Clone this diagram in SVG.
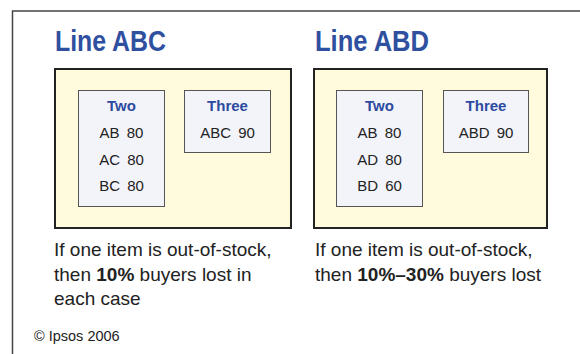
<svg xmlns="http://www.w3.org/2000/svg" width="580" height="354" viewBox="0 0 580 354">
<style>
.frame{fill:none;stroke:#444;stroke-width:1.5}
.panel{fill:#fffbdc;stroke:#222;stroke-width:2}
.box{fill:#f3f4fa;stroke:#555;stroke-width:1}
.title{font-family:"Liberation Sans",Arial,sans-serif;font-weight:bold;font-size:29px;fill:#2f4f9f}
.head{font-family:"Liberation Sans",Arial,sans-serif;font-weight:bold;font-size:15px;fill:#2b4aa0;text-anchor:middle}
.item{font-family:"Liberation Sans",Arial,sans-serif;font-size:15px;fill:#222;text-anchor:middle;word-spacing:3px}
.note{font-family:"Liberation Sans",Arial,sans-serif;font-size:19px;fill:#222}
.copy{font-family:"Liberation Sans",Arial,sans-serif;font-size:14.5px;fill:#222}
</style>
<rect width="580" height="354" fill="#fff"/>
<path class="frame" d="M12.5,354 V11 H580"/>
<g id="lineABC">
<text class="title" x="55" y="51" textLength="111" lengthAdjust="spacingAndGlyphs">Line ABC</text>
<rect class="panel" x="55" y="69" width="236" height="159"/>
<g id="abc-two">
<rect class="box" x="78.5" y="90.5" width="86" height="116"/>
<text class="head" x="121.5" y="111">Two</text>
<text class="item" x="121.5" y="138">AB 80</text>
<text class="item" x="121.5" y="165">AC 80</text>
<text class="item" x="121.5" y="191">BC 80</text>
</g>
<g id="abc-three">
<rect class="box" x="184.5" y="90.5" width="86" height="62"/>
<text class="head" x="227.5" y="111">Three</text>
<text class="item" x="227.5" y="138">ABC 90</text>
</g>
<text class="note" x="54" y="256">If one item is out-of-stock,</text>
<text class="note" x="54" y="281">then <tspan font-weight="bold">10%</tspan> buyers lost in</text>
<text class="note" x="54" y="305">each case</text>
</g>
<g id="lineABD">
<text class="title" x="315" y="51" textLength="114" lengthAdjust="spacingAndGlyphs">Line ABD</text>
<rect class="panel" x="314" y="69" width="233" height="159"/>
<g id="abd-two">
<rect class="box" x="336.5" y="90.5" width="86" height="116"/>
<text class="head" x="379.5" y="111">Two</text>
<text class="item" x="379.5" y="138">AB 80</text>
<text class="item" x="379.5" y="165">AD 80</text>
<text class="item" x="379.5" y="191">BD 60</text>
</g>
<g id="abd-three">
<rect class="box" x="443.5" y="90.5" width="85" height="62"/>
<text class="head" x="486" y="111">Three</text>
<text class="item" x="486" y="138">ABD 90</text>
</g>
<text class="note" x="315" y="256">If one item is out-of-stock,</text>
<text class="note" x="315" y="281">then <tspan font-weight="bold">10%–30%</tspan> buyers lost</text>
</g>
<g id="connectors"></g>
<text class="copy" x="34" y="341">© Ipsos 2006</text>
</svg>
